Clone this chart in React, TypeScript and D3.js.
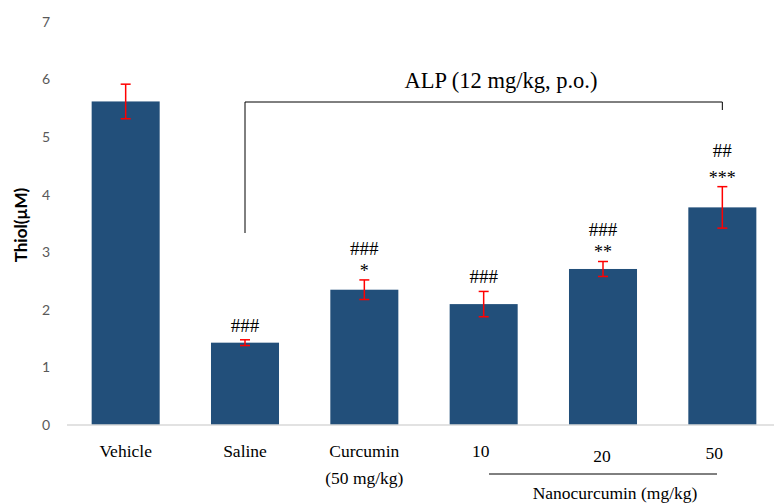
import React from "react";
import * as d3 from "d3";

const categories = ["Vehicle", "Saline", "Curcumin", "10", "20", "50"];
const values = [5.62, 1.43, 2.35, 2.1, 2.71, 3.78];
const errors = [0.3, 0.05, 0.17, 0.22, 0.13, 0.36];
const sigNear = ["", "###", "*", "###", "**", "***"];
const sigFar = ["", "", "###", "", "###", "##"];
const yTicks = [0, 1, 2, 3, 4, 5, 6, 7];

const W = 774;
const H = 504;

export default function App() {
  const x = d3
    .scaleBand<string>()
    .domain(categories)
    .range([66, 782])
    .paddingInner(0.43)
    .paddingOuter(0.215);
  const y = d3.scaleLinear().domain([0, 7]).range([425, 22]);
  const cx = (c: string) => (x(c) as number) + x.bandwidth() / 2;
  const serif = "'Liberation Serif', 'Times New Roman', serif";
  const sans = "Lato, 'Open Sans', sans-serif";

  const bracketLeft = cx("Saline");
  const bracketRight = cx("50");
  const bracketTop = 102;
  const labelShift = [0, 0, 0, -3, -1, -8];
  const labelBase = [457, 457, 457, 457, 462, 459];

  return (
    <svg
      width={W}
      height={H}
      style={{ position: "absolute", left: 0, top: 0, background: "#fff" }}
    >
      <rect x={0} y={0} width={W} height={H} fill="#fff" />
      {yTicks.map((t) => (
        <text
          key={t}
          x={50}
          y={y(t)}
          dy="0.35em"
          textAnchor="end"
          fontFamily={sans}
          fontSize={14}
          fill="#595959"
        >
          {t}
        </text>
      ))}
      <text
        transform={`translate(20,225) rotate(-90)`}
        textAnchor="middle"
        dominantBaseline="central"
        fontFamily={sans}
        fontWeight="bold"
        fontSize={17}
        fill="#000"
      >
        Thiol(µM)
      </text>
      {categories.map((c, i) => (
        <rect
          key={c}
          x={x(c)}
          y={y(values[i])}
          width={x.bandwidth()}
          height={y(0) - y(values[i])}
          fill="#224f7a"
        />
      ))}
      <line x1={67} x2={782} y1={y(0)} y2={y(0)} stroke="#d9d9d9" strokeWidth={1.5} />
      {categories.map((c, i) => {
        const xc = cx(c);
        const t = y(values[i] + errors[i]);
        const b = y(values[i] - errors[i]);
        return (
          <g key={c} stroke="#ff0000" strokeWidth={1.5}>
            <line x1={xc} x2={xc} y1={t} y2={b} />
            <line x1={xc - 5} x2={xc + 5} y1={t} y2={t} />
            <line x1={xc - 5} x2={xc + 5} y1={b} y2={b} />
          </g>
        );
      })}
      {categories.map((c, i) => {
        const xc = cx(c);
        const t = y(values[i] + errors[i]);
        const isStar = sigNear[i].startsWith("*");
        return (
          <g key={c} fontFamily={serif} fill="#000" textAnchor="middle">
            {sigNear[i] && (
              <text x={xc} y={t - (isStar ? 3 : 8)} fontSize={isStar ? 18 : 19}>
                {sigNear[i]}
              </text>
            )}
            {sigFar[i] && (
              <text x={xc} y={t - (i === 5 ? 30 : 25)} fontSize={19}>
                {sigFar[i]}
              </text>
            )}
          </g>
        );
      })}
      <path
        d={`M${bracketLeft},233 V${bracketTop} H${bracketRight} V110`}
        fill="none"
        stroke="#000"
        strokeWidth={1}
      />
      <text
        x={501}
        y={88}
        textAnchor="middle"
        fontFamily={serif}
        fontSize={22.5}
        fill="#000"
      >
        ALP (12 mg/kg, p.o.)
      </text>
      {categories.map((c, i) => (
        <text
          key={c}
          x={cx(c) + labelShift[i]}
          y={labelBase[i]}
          textAnchor="middle"
          fontFamily={serif}
          fontSize={17.5}
          fill="#000"
        >
          {c}
        </text>
      ))}
      <text
        x={cx("Curcumin")}
        y={484}
        textAnchor="middle"
        fontFamily={serif}
        fontSize={17.5}
        fill="#000"
      >
        (50 mg/kg)
      </text>
      <line x1={489} x2={717} y1={474} y2={474} stroke="#000" strokeWidth={1} />
      <text
        x={615}
        y={499}
        textAnchor="middle"
        fontFamily={serif}
        fontSize={17.5}
        fill="#000"
      >
        Nanocurcumin (mg/kg)
      </text>
    </svg>
  );
}
